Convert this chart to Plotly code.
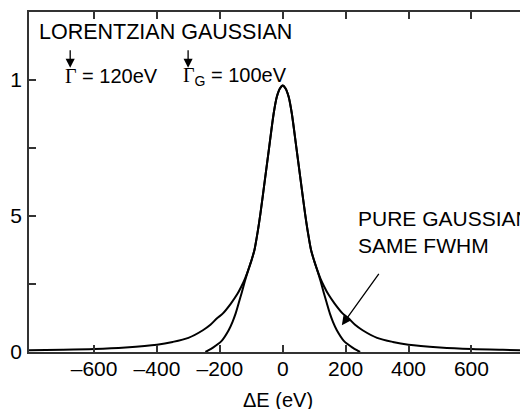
import plotly.graph_objects as go

# Voigt-like profile (Lorentzian x Gaussian)
voigt_x = [-810, -700, -600, -500, -400, -350, -300, -254, -230, -209, -191,
           -165, -145, -132, -120, -110, -100, -90, -80, -71, -57, -43, -29,
           -19, -9, 0, 9, 19, 29, 43, 57, 71, 80, 90, 100, 110, 120, 132,
           145, 165, 191, 209, 230, 254, 300, 350, 400, 500, 600, 700, 790]
voigt_y = [0.006, 0.008, 0.011, 0.017, 0.027, 0.037, 0.052, 0.080, 0.100,
           0.124, 0.141, 0.178, 0.212, 0.240, 0.270, 0.300, 0.335, 0.375,
           0.440, 0.509, 0.631, 0.754, 0.876, 0.9375, 0.969, 0.980, 0.969,
           0.9375, 0.876, 0.754, 0.631, 0.509, 0.440, 0.375, 0.335, 0.300,
           0.270, 0.240, 0.212, 0.178, 0.141, 0.124, 0.100, 0.080, 0.052,
           0.037, 0.027, 0.017, 0.011, 0.008, 0.006]

# pure Gaussian with the same FWHM
gauss_x = [-246, -238, -222, -195, -172, -160, -150, -140, -130, -120, -110,
           -100, -90, -80, -71, -57, -43, -29, -19, -9, 0, 9, 19, 29, 43, 57,
           71, 80, 90, 100, 110, 120, 130, 140, 150, 160, 172, 195, 222, 238,
           246]
gauss_y = [0.0, 0.005, 0.016, 0.040, 0.080, 0.110, 0.141, 0.180, 0.220,
           0.262, 0.300, 0.335, 0.375, 0.440, 0.509, 0.631, 0.754, 0.876,
           0.9375, 0.969, 0.980, 0.969, 0.9375, 0.876, 0.754, 0.631, 0.509,
           0.440, 0.375, 0.335, 0.300, 0.262, 0.220, 0.180, 0.141, 0.110,
           0.080, 0.040, 0.016, 0.005, 0.0]

x_ticks = [-600, -400, -200, 0, 200, 400, 600]
x_tick_text = ["–600", "–400", "–200", "0", "200", "400", "600"]
y_ticks = [0, 0.5, 1]
y_tick_text = ["0", "5", "1"]
y_minor = [0.25, 0.75]

FONT = "Liberation Sans, Arial, Helvetica, sans-serif"
AXIS = "#333333"
SIZE = 20

fig = go.Figure()
fig.add_trace(go.Scatter(x=voigt_x, y=voigt_y, mode="lines",
                         line=dict(color="black", width=2, shape="spline",
                                   smoothing=0.8),
                         showlegend=False, hoverinfo="skip"))
fig.add_trace(go.Scatter(x=gauss_x, y=gauss_y, mode="lines",
                         line=dict(color="black", width=2, shape="spline",
                                   smoothing=0.8),
                         showlegend=False, hoverinfo="skip"))

axis_common = dict(showgrid=False, zeroline=False, showline=True,
                   linecolor=AXIS, linewidth=1.5, ticks="inside", ticklen=7,
                   tickwidth=1.5, tickcolor=AXIS, automargin=False)

fig.update_xaxes(range=[-807, 780], tickvals=x_ticks, ticktext=x_tick_text,
                 mirror="allticks", ticklabelstandoff=-3,
                 tickfont=dict(family=FONT, size=21, color="black"),
                 **axis_common)
fig.update_yaxes(range=[0, 1.25], tickvals=y_ticks, ticktext=y_tick_text,
                 mirror=False, ticklabelstandoff=1,
                 tickfont=dict(family=FONT, size=21, color="black"),
                 minor=dict(tickvals=y_minor, ticks="inside", ticklen=7,
                            tickwidth=1.5, tickcolor=AXIS),
                 **axis_common)

text_font = dict(family=FONT, size=SIZE, color="black")
serif = '<span style="font-family:Liberation Serif, Times New Roman, serif">Γ</span>'

fig.add_annotation(x=-15, y=-0.141, xref="x", yref="paper", text="ΔE (eV)",
                   showarrow=False, xanchor="center", yanchor="middle",
                   font=text_font)
fig.add_annotation(x=-781, y=1.175, xref="x", yref="y", text="LORENTZIAN GAUSSIAN",
                   showarrow=False, xanchor="left", yanchor="middle",
                   font=dict(family=FONT, size=21.5, color="black"))
fig.add_annotation(x=-700, y=1.013, xref="x", yref="y",
                   text=serif + " = 120eV",
                   showarrow=False, xanchor="left", yanchor="middle", font=text_font)
fig.add_annotation(x=-325, y=1.013, xref="x", yref="y",
                   text=serif + "<sub>G</sub> = 100eV",
                   showarrow=False, xanchor="left", yanchor="middle", font=text_font)
fig.add_annotation(x=234, y=0.44, xref="x", yref="y",
                   text="PURE GAUSSIAN<br>SAME FWHM", align="left",
                   showarrow=False, xanchor="left", yanchor="middle",
                   font=dict(family=FONT, size=21, color="black"))

# arrows
arrow = dict(xref="x", yref="y", axref="x", ayref="y", text="", showarrow=True,
             arrowhead=2, arrowsize=1.4, arrowwidth=1.3, arrowcolor="black")
fig.add_annotation(x=-676, y=1.045, ax=-676, ay=1.115, **arrow)
fig.add_annotation(x=-301, y=1.045, ax=-301, ay=1.115, **arrow)
fig.add_annotation(x=188, y=0.098, ax=309, ay=0.293, **arrow)

# the page puts the figure 8px in from the top-left corner
fig.update_layout(width=520, height=401,
                  margin=dict(l=21, r=0, t=4, b=57),
                  plot_bgcolor="white", paper_bgcolor="white",
                  font=dict(family=FONT, size=SIZE, color="black"))

fig.write_html("out.html")
